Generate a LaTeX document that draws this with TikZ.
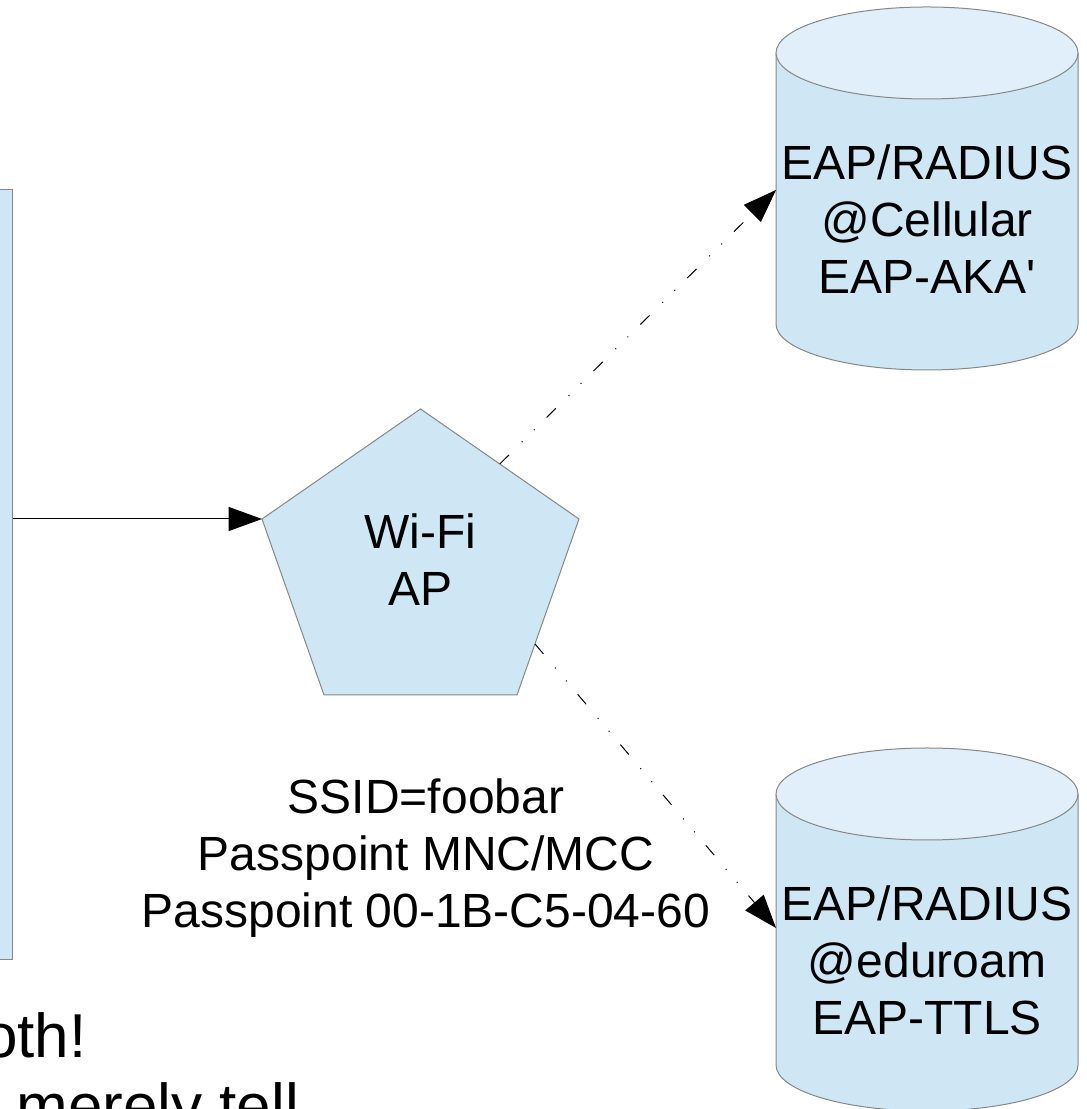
\documentclass[tikz,border=0pt]{standalone}
\usepackage{fontspec}
\setmainfont{Liberation Sans}
\usetikzlibrary{arrows.meta,calc}
\definecolor{boxfill}{RGB}{207,231,245}
\definecolor{topfill}{RGB}{224,239,250}
\definecolor{boxline}{RGB}{135,135,135}
\newcommand{\dgmfont}{\fontsize{36pt}{42.75pt}\selectfont}
\newcommand{\slidefont}{\fontsize{46.5pt}{53pt}\selectfont}
% cylinder: centre x, centre y of the top ellipse
\newcommand{\dbcyl}[2]{%
  \filldraw[fill=boxfill,draw=boxline] (#1-151,#2) -- (#1-151,#2-271)
    arc[start angle=180,end angle=360,x radius=151,y radius=46] -- (#1+151,#2);
  \filldraw[fill=topfill,draw=boxline] (#1,#2) ellipse [x radius=151,y radius=46];
}

\begin{document}
\begin{tikzpicture}[x=0.75pt,y=0.75pt,line width=0.75pt]
\tikzstyle{every node}=[font=\dgmfont,align=center,inner sep=0pt]
\tikzstyle{arr}=[-{Triangle[length=25pt,width=18pt]}]
\tikzstyle{dashdot}=[arr,dash pattern=on 9.75pt off 13.5pt on 0.75pt off 12pt on 0.75pt off 12.75pt]
\useasboundingbox (0,0) rectangle (1086,1109);
\clip (0,0) rectangle (1086,1109);
\node[draw=boxline,fill=boxfill,minimum width=24pt,minimum height=577.5pt] (dev) at (-4,534) {};
\coordinate (pt) at (420.5,700);
\coordinate (pl) at (262,590);
\coordinate (pr) at (579,590);
\coordinate (pbr) at (517,414);
\coordinate (pbl) at (324,414);
\filldraw[fill=boxfill,draw=boxline] (pt) -- (pr) -- (pbr) -- (pbl) -- (pl) -- cycle;
\node (ap) at (420.5,549) {Wi-Fi\\AP};
\dbcyl{927}{1056}
\dbcyl{927}{315}
\node (cell) at (927,890) {EAP/RADIUS\\@Cellular\\EAP-AKA\textquotesingle};
\node (edu) at (927,149) {EAP/RADIUS\\@eduroam\\EAP-TTLS};
\node (ssid) at (426,251) {SSID=foobar\\Passpoint MNC/MCC\\Passpoint 00-1B-C5-04-60};
\node[font=\slidefont,anchor=base east] (both) at (87,51) {oth!};
\node[font=\slidefont,anchor=base west] (tell) at (16,-18) {merely tell};
\coordinate (cellin) at (776,919);
\coordinate (eduin) at (776,181);
\draw[arr] (dev.east |- pl) -- (pl);
\draw[dashdot] ($(pt)!0.5!(pr)$) -- (cellin);
\draw[dashdot] ($(pr)!0.71!(pbr)$) -- (eduin);
\end{tikzpicture}
\end{document}
